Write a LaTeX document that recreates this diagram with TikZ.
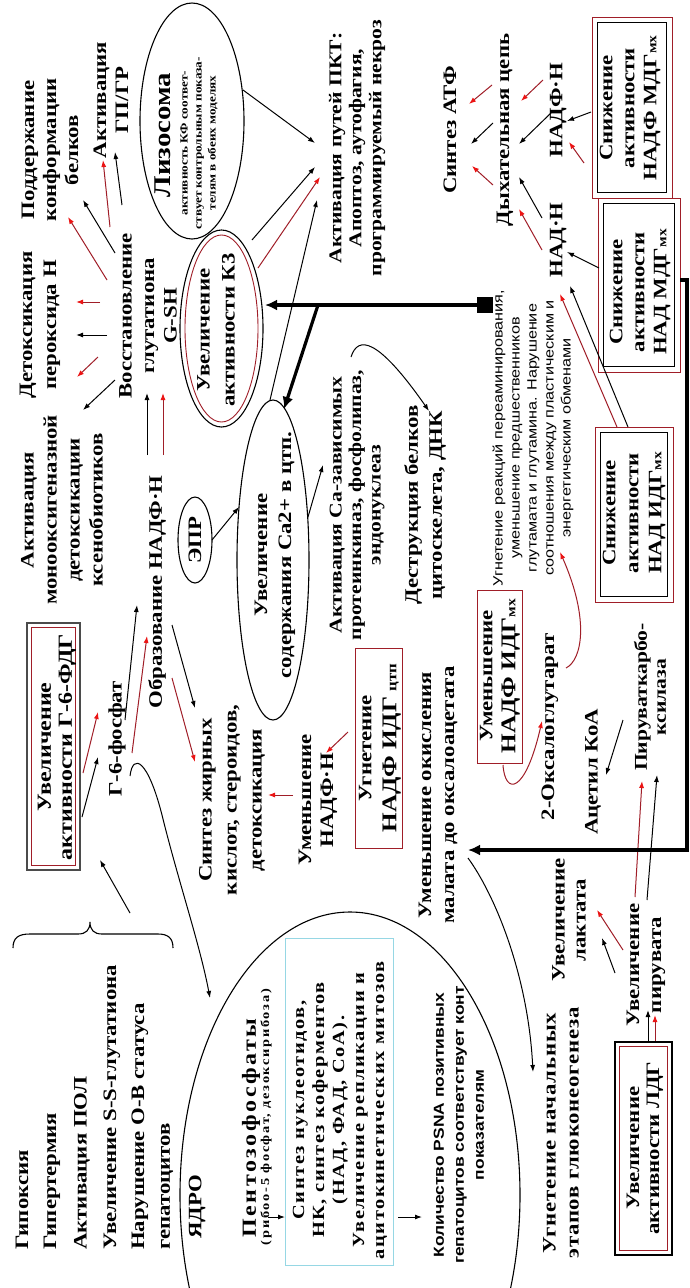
\documentclass[tikz,border=0pt]{standalone}
\usepackage{fontspec}
\setmainfont{Liberation Serif}[FakeStretch=1.2]
\newfontfamily\sansf{Liberation Sans}[FakeStretch=1.2]
\usetikzlibrary{arrows.meta,shapes.geometric}
\definecolor{dred}{RGB}{160,30,40}
\definecolor{tipred}{RGB}{235,20,20}
\definecolor{cyanb}{RGB}{150,215,228}
\definecolor{gbox}{RGB}{75,75,75}
\newcommand\fs[2]{\fontsize{#1}{#2}\selectfont}
\newcommand\conn[4]{\coordinate (#2a) at #3;\coordinate (#2b) at #4;\draw[#1] (#2a) -- (#2b);}
\begin{document}
\begin{tikzpicture}[x=1pt,y=-1pt,
  t/.style={rotate=90,align=center,inner sep=0pt,font=\bfseries\fs{19}{22}},
  ar/.style={line width=1pt,-{Latex[length=7pt,width=5pt]}},
  rar/.style={line width=1pt,draw=dred,-{Latex[length=7pt,width=5pt,color=tipred]}},
  tar/.style={line width=3.2pt,-{Latex[length=12pt,width=11pt]}},
  shp/.style={rotate=90,inner sep=0pt},
  ell/.style={shp,ellipse,draw,line width=1.1pt},
]
\useasboundingbox (0,0) rectangle (689,1288);
\fill[white] (0,0) rectangle (689,1288);

% ---------- top left ----------
\node[t] (poddr) at (50,150) {Поддержание\\конформации\\белков};
\node[t] (gpgr) at (111,100) {Активация\\ГП/ГР};
\node[ell,minimum width=236pt,minimum height=104pt] (lizo) at (192,121) {};
\node[t,font=\bfseries\fs{24}{26}] (lizoT) at (163,135) {Лизосома};
\node[t,font=\bfseries\fs{11}{14}] (lizoS) at (199,143) {активность КФ соответ-\\ствует контрольным показа-\\телям в обеих моделях};
\node[t,font=\bfseries\fs{18}{20}] (pkt) at (357,148) {Активация путей ПКТ:\\Апоптоз, аутофагия,\\программируемый некроз};

\node[t,font=\bfseries\fs{19}{24}] (detox) at (40,325) {Детоксикация\\пероксида Н};
\node[t,font=\bfseries\fs{19}{22.5}] (vosst) at (148,316) {Восстановление\\глутатиона\\G-SH};
\node[ell,minimum width=197pt,minimum height=83pt] (k3o) at (221.5,328.5) {};
\node[shp,ellipse,draw=dred,line width=0.9pt,minimum width=187pt,minimum height=73pt] (k3i) at (221.5,328.5) {};
\node[t,font=\bfseries\fs{19}{25}] (k3t) at (216,330) {Увеличение\\активности К3};

\node[t,font=\bfseries\fs{19}{23}] (monoox) at (62,510) {Активация\\монооксигеназной\\детоксикации\\ксенобиотиков};
\node[t] (obraz) at (157,592) {Образование НАДФ·Н};
\node[ell,font=\bfseries\fs{19}{22},minimum width=86pt,minimum height=34pt] (epr) at (195,540) {ЭПР};
\node[ell,minimum width=320pt,minimum height=72pt] (ca) at (273,560) {};
\node[t,font=\bfseries\fs{19}{24}] (cat) at (275,555) {Увеличение\\содержания Ca2+ в цтп.};
\node[t,font=\bfseries\fs{18}{19.5}] (cadep) at (357,505) {Активация Са-зависимых\\протеинкиназ, фосфолипаз,\\эндонуклеаз};
\node[t,font=\bfseries\fs{19}{24}] (destr) at (425,505) {Деструкция белков\\цитоскелета, ДНК};

% ---------- G6PDH ----------
\node[shp,draw=gbox,line width=2.5pt,minimum width=247pt,minimum height=53pt] (g6o) at (53.5,746.5) {};
\node[shp,draw=dred,line width=0.8pt,minimum width=238pt,minimum height=44pt] (g6i) at (53.5,746.5) {};
\node[t,font=\bfseries\fs{20}{21}] (g6t) at (57,747) {Увеличение\\активности Г-6-ФДГ};
\node[t] (g6p) at (117,739) {Г-6-фосфат};
\node[t,font=\bfseries\fs{19}{25}] (lip) at (232,800) {Синтез жирных\\кислот, стероидов,\\детоксикация};
\node[t] (umn) at (318,800) {Уменьшение\\НАДФ·Н};
\node[shp,draw=dred,line width=1pt,minimum width=200pt,minimum height=47pt] (idgc) at (378.5,748) {};
\node[t,font=\bfseries\fs{19}{25}] (idgct) at (380,748) {Угнетение\\{\fs{21}{25}НАДФ ИДГ} {\fs{14}{25}цтп}};
\node[t,font=\bfseries\fs{19}{23}] (mal) at (438,795) {Уменьшение окисления\\малата до оксалоацетата};
\node[shp,draw=dred,line width=1pt,minimum width=173pt,minimum height=45pt] (idgm) at (499.5,676.5) {};
\node[t,font=\bfseries\fs{19}{23}] (idgmt) at (500,676) {Уменьшение\\{\fs{21}{23}НАДФ ИДГ}{\fs{13}{23}мх}};
\node[t] (oxo) at (550,727) {2-Оксалоглутарат};
\node[t] (acet) at (593,772) {Ацетил КоА};
\node[t,font=\bfseries\fs{18}{19}] (pyrc) at (650,697) {Пируваткарбо-\\ксилаза};

\node[t,font=\sansf\fs{13.5}{17}] (perea) at (533,438) {Угнетение реакций переаминирования,\\уменьшение предшественников\\глутамата и глутамина. Нарушение\\соотношения между пластическим и\\энергетическим обменами};
\node[shp,fill,minimum size=16pt] (sq) at (485,305) {};

% ---------- right boxes ----------
\node[shp,draw=dred,line width=1pt,minimum width=181pt,minimum height=80pt] (m1o) at (632,107.5) {};
\node[shp,draw=black,line width=1.2pt,minimum width=170pt,minimum height=69pt] (m1i) at (632,107.5) {};
\node[t,font=\bfseries\fs{19}{22}] (m1t) at (630,108) {Снижение\\активности\\НАДФ МДГ{\fs{13}{22}мх}};
\node[shp,draw=dred,line width=1pt,minimum width=174pt,minimum height=82pt] (m2o) at (639,285) {};
\node[shp,draw=black,line width=1.2pt,minimum width=163pt,minimum height=71pt] (m2i) at (639,285) {};
\node[t,font=\bfseries\fs{19}{22}] (m2t) at (640,292) {Снижение\\активности\\НАД МДГ{\fs{13}{22}мх}};
\node[shp,draw=dred,line width=1pt,minimum width=175pt,minimum height=78pt] (m3o) at (634,514.5) {};
\node[shp,draw=black,line width=1.2pt,minimum width=164pt,minimum height=67pt] (m3i) at (634,514.5) {};
\node[t,font=\bfseries\fs{19}{23}] (m3t) at (634,513) {Снижение\\активности\\НАД ИДГ{\fs{13}{23}мх}};

\node[t] (atp) at (450,130) {Синтез АТФ};
\node[t] (dyh) at (505,130) {Дыхательная цепь};
\node[t] (nadph2) at (558,110) {НАДФ·Н};
\node[t] (nadh) at (558,240) {НАД·Н};

\node[t,font=\bfseries\fs{19}{21}] (lact) at (569,920) {Увеличение\\лактата};
\node[t,font=\bfseries\fs{19}{22}] (pyr) at (646,965) {Увеличение\\пирувата};
\node[shp,draw=black,line width=2.2pt,minimum width=213pt,minimum height=57pt] (ldho) at (643.5,1148.5) {};
\node[shp,draw=dred,line width=0.8pt,minimum width=204pt,minimum height=48pt] (ldhi) at (643.5,1148.5) {};
\node[t,font=\bfseries\fs{19}{20}] (ldht) at (645,1148) {Увеличение\\активности ЛДГ};
\node[t,font=\bfseries\fs{19}{23}\addfontfeature{LetterSpace=4}] (glu) at (561,1133) {Угнетение начальных\\этапов глюконеогенеза};

% ---------- causes ----------
\node[t,anchor=west] (h1) at (22,1250) {Гипоксия};
\node[t,anchor=west] (h2) at (52,1250) {Гипертермия};
\node[t,anchor=west] (h3) at (82,1250) {Активация ПОЛ};
\node[t,anchor=west] (h4) at (112,1250) {Увеличение S-S-глутатиона};
\node[t,anchor=west] (h5) at (140,1250) {Нарушение О-В статуса};
\node[t,anchor=west] (h6) at (167,1250) {гепатоцитов};
\draw[line width=1.1pt] (13,948) .. controls (13,938) and (18,934) .. (30,934) -- (78,934) .. controls (86,934) and (90,930) .. (90,922) .. controls (90,930) and (94,934) .. (102,934) -- (158,934) .. controls (168,934) and (173,938) .. (173,948);

% ---------- nucleus ----------
\begin{scope}
\clip (0,0) rectangle (689,1288);
\draw[line width=1.1pt] (350,1195) ellipse [x radius=170pt, y radius=283pt];
\end{scope}
\node[t] (yadro) at (197,1207) {ЯДРО};
\node[t,font=\bfseries\fs{20}{22}\addfontfeature{LetterSpace=13}] (pent) at (251,1128) {Пентозофосфаты};
\node[t,font=\bfseries\fs{12}{14}\addfontfeature{LetterSpace=14}] (pents) at (266,1117) {(рибоо-5 фосфат, дезоксирибоза)};
\node[shp,draw=cyanb,line width=1pt,minimum width=327pt,minimum height=108pt] (cbox) at (339,1101.5) {};
\node[t,font=\bfseries\fs{17}{20}\addfontfeature{LetterSpace=9}] (cboxt) at (340,1110) {Синтез нуклеотидов,\\НК, синтез коферментов\\(НАД, ФАД, СоА).\\Увеличение репликации и\\ацитокинетических митозов};
\node[t,font=\sansf\bfseries\fs{14.5}{20}] (psna) at (459,1125) {Количество PSNA позитивных\\гепатоцитов соответствует конт\\показателям};
\conn{ar}{pa}{(268,1217)}{(285,1217)}
\conn{ar}{pb}{(398,1217)}{(422,1217)}

% ---------- connectors ----------
\conn{rar}{c1}{(107,280)}{(68,217)}
\conn{ar}{c2}{(115,253)}{(83,200)}
\conn{rar}{c3}{(110,227)}{(103,160)}
\conn{ar}{c4}{(122,205)}{(115,152)}
\conn{rar}{c5}{(100,302)}{(76,302)}
\conn{ar}{c6}{(107,335)}{(76,335)}
\conn{rar}{c7}{(98,357)}{(77,377)}
\conn{ar}{c8}{(115,380)}{(83,410)}
\conn{ar}{c9}{(147,455)}{(147,393)}
\conn{rar}{c10}{(163,455)}{(163,393)}
\conn{ar}{c11}{(125,720)}{(137,605)}
\conn{rar}{c12}{(132,753)}{(147,636)}
\conn{ar}{c13}{(172,625)}{(195,708)}
\conn{rar}{c14}{(172,678)}{(195,762)}
\conn{ar}{c15}{(82,817)}{(98,757)}
\conn{rar}{c16}{(83,773)}{(98,712)}
\conn{ar}{c17}{(130,913)}{(100,860)}
\coordinate (cv1) at (130,776); \coordinate (cv2) at (210,998);
\draw[ar] (cv1) .. controls (133,752) and (148,760) .. (162,815) .. controls (178,880) and (200,945) .. (cv2);
\conn{ar}{c18}{(243,90)}{(315,143)}
\conn{ar}{c19}{(252,240)}{(315,167)}
\conn{rar}{c20}{(258,268)}{(320,177)}
\conn{ar}{c21}{(270,400)}{(317,200)}
\coordinate (k3r) at (265,305);
\draw[tar] (sq.center) -- (k3r);
\coordinate (jn) at (318,305); \coordinate (cae) at (284,409);
\draw[tar] (jn) -- (cae);
\conn{ar}{c22}{(212,540)}{(239,507)}
\conn{ar}{c23}{(308,517)}{(323,465)}
\coordinate (cu1) at (351,357); \coordinate (cu2) at (429,411);
\draw[ar] (cu1) .. controls (358,335) and (378,338) .. (cu2);
\conn{rar}{c24}{(293,795)}{(268,795)}
\conn{rar}{c25}{(348,732)}{(326,753)}
\coordinate (rc1) at (503,765); \coordinate (rc2) at (542,721);
\draw[rar] (rc1) .. controls (505,795) and (525,795) .. (rc2);
\coordinate (rd1) at (566,668); \coordinate (rd2) at (560,552);
\draw[rar] (rd1) .. controls (582,660) and (590,620) .. (rd2);
\conn{ar}{c26}{(623,720)}{(606,775)}
\conn{rar}{c27}{(635,897)}{(642,781)}
\conn{ar}{c28}{(647,900)}{(657,775)}
\conn{rar}{c29}{(623,950)}{(597,910)}
\conn{ar}{c30}{(615,973)}{(602,938)}
\conn{ar}{c31}{(648,1041)}{(648,1010)}
\conn{rar}{c32}{(655,1041)}{(655,1015)}
\coordinate (mg1) at (468,858); \coordinate (mg2) at (533,1072);
\draw[ar] (mg1) .. controls (495,895) and (528,975) .. (mg2);
\coordinate (m2r) at (680,280); \coordinate (malr) at (468,850);
\draw[tar] (m2r) -- (687,280) -- (687,850) -- (malr);
\conn{rar}{c33}{(492,85)}{(469,104)}
\conn{ar}{c34}{(493,123)}{(471,144)}
\conn{rar}{c35}{(493,185)}{(472,166)}
\conn{rar}{c36}{(543,80)}{(521,101)}
\conn{ar}{c37}{(552,112)}{(519,144)}
\conn{ar}{c38}{(591,112)}{(567,121)}
\conn{rar}{c39}{(584,163)}{(569,142)}
\conn{rar}{c40}{(542,250)}{(519,209)}
\conn{ar}{c41}{(542,218)}{(519,177)}
\conn{ar}{c42}{(599,268)}{(567,252)}
\conn{rar}{c43}{(617,427)}{(560,294)}
\conn{ar}{c44}{(628,427)}{(570,286)}
\end{tikzpicture}
\end{document}
